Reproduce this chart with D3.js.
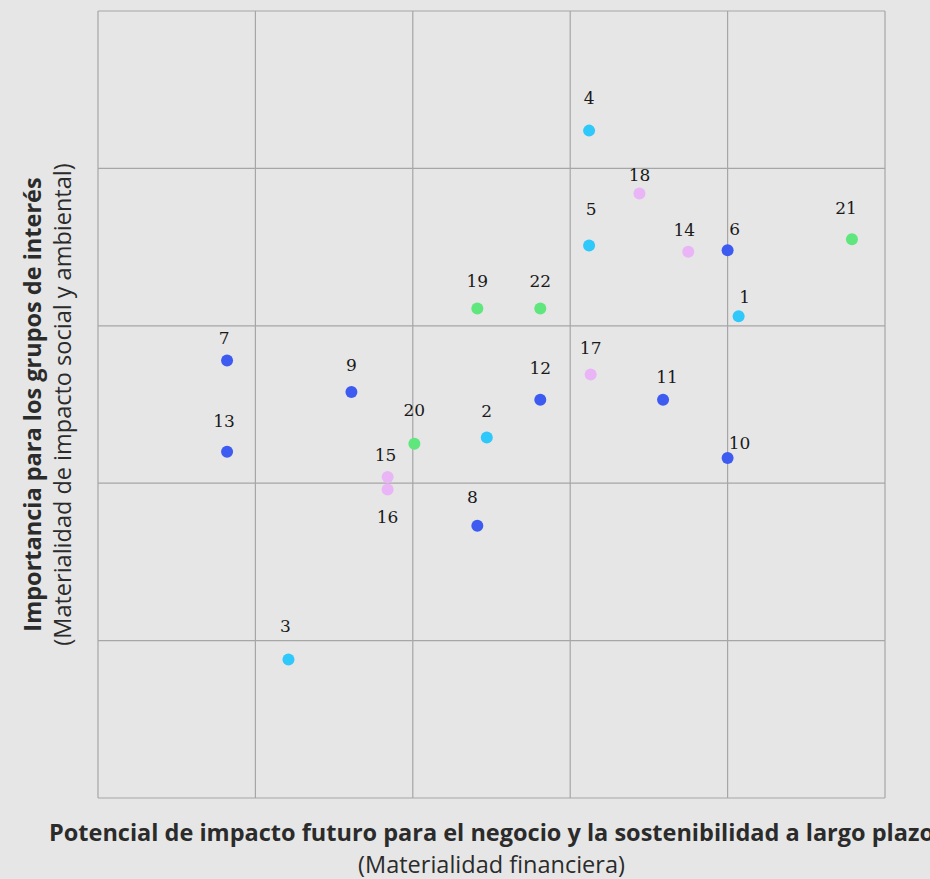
<!DOCTYPE html>
<html>
<head>
<meta charset="utf-8">
<script src="https://cdn.jsdelivr.net/npm/d3@7"></script>
<style>
  body { margin: 0; background: #e6e6e6; }
  svg { display: block; }
</style>
</head>
<body>
<div id="chart"></div>
<script>
const w = 930;
const h = 879;
const margin = { top: 11, right: 45, bottom: 81, left: 98 };

// topic ids, scores (0..5 on both axes)
const ids = [1, 2, 3, 4, 5, 6, 7, 8, 9, 10, 11, 12, 13, 14, 15, 16, 17, 18, 19, 20, 21, 22];
const financial = [4.07, 2.47, 1.21, 3.12, 3.12, 4.0, 0.82, 2.41, 1.61, 4.0, 3.59, 2.81, 0.82, 3.75, 1.84, 1.84, 3.13, 3.44, 2.41, 2.01, 4.79, 2.81];
const impact = [3.06, 2.29, 0.88, 4.24, 3.51, 3.48, 2.78, 1.73, 2.58, 2.16, 2.53, 2.53, 2.20, 3.47, 2.04, 1.96, 2.69, 3.84, 3.11, 2.25, 3.55, 3.11];
const group = ["cyan", "cyan", "cyan", "cyan", "cyan", "blue", "blue", "blue", "blue", "blue", "blue", "blue", "blue", "pink", "pink", "pink", "pink", "pink", "green", "green", "green", "green"];
const gridTicks = [0, 1, 2, 3, 4, 5];

const colors = { blue: "#3d5af1", cyan: "#2ec8fa", pink: "#e9b5f7", green: "#5fe67c" };

// label nudges (px) relative to the default "above" placement
const labelShift = {
  1: [6, 8], 6: [7, 6], 10: [12, 12], 14: [-4, 5], 11: [4, 4], 8: [-5, -2],
  7: [-3, 5], 13: [-3, -4], 21: [-6, -4], 3: [-3, -6], 5: [2, -10], 18: [0, 8],
  15: [-2, 5], 4: [0, -6], 20: [0, -7], 12: [0, -5]
};

const data = ids.map((id, i) => ({ id, x: financial[i], y: impact[i], g: group[i] }));

const x = d3.scaleLinear().domain([0, 5]).range([margin.left, w - margin.right]);
const y = d3.scaleLinear().domain([0, 5]).range([h - margin.bottom, margin.top]);

const svg = d3.select("#chart").append("svg").attr("width", w).attr("height", h);

svg.append("rect").attr("width", w).attr("height", h).attr("fill", "#e6e6e6");

// grid
svg.append("g")
  .selectAll("line")
  .data(gridTicks)
  .enter()
  .append("line")
  .attr("x1", d => x(d)).attr("x2", d => x(d))
  .attr("y1", y(0)).attr("y2", y(5))
  .attr("stroke", "#a6a6a6").attr("stroke-width", 1.2);

svg.append("g")
  .selectAll("line")
  .data(gridTicks)
  .enter()
  .append("line")
  .attr("y1", d => y(d)).attr("y2", d => y(d))
  .attr("x1", x(0)).attr("x2", x(5))
  .attr("stroke", "#a6a6a6").attr("stroke-width", 1.2);

// points
svg.append("g")
  .selectAll("circle")
  .data(data)
  .enter()
  .append("circle")
  .attr("cx", d => x(d.x))
  .attr("cy", d => y(d.y))
  .attr("r", 6)
  .attr("fill", d => colors[d.g]);

// labels
svg.append("g")
  .selectAll("text")
  .data(data)
  .enter()
  .append("text")
  .text(d => d.id)
  .attr("x", d => x(d.x) + (labelShift[d.id] ? labelShift[d.id][0] : 0))
  .attr("y", d => {
    if (d.id === 16) return y(d.y) + 34; // sits under its point
    return y(d.y) - 21 + (labelShift[d.id] ? labelShift[d.id][1] : 0);
  })
  .attr("text-anchor", "middle")
  .attr("font-family", "'DejaVu Serif', serif")
  .attr("font-size", 17)
  .attr("fill", "#1a1a1a");

// axis titles
const cx = (x(0) + x(5)) / 2;
const cy = (y(0) + y(5)) / 2;
const font = "'Open Sans', sans-serif";

svg.append("text")
  .attr("x", cx).attr("y", 841)
  .attr("text-anchor", "middle")
  .attr("font-family", font).attr("font-size", 23.5).attr("font-weight", "bold")
  .attr("fill", "#2b2b2b")
  .text("Potencial de impacto futuro para el negocio y la sostenibilidad a largo plazo");

svg.append("text")
  .attr("x", cx).attr("y", 873)
  .attr("text-anchor", "middle")
  .attr("font-family", font).attr("font-size", 23.5)
  .attr("fill", "#2b2b2b")
  .text("(Materialidad financiera)");

svg.append("text")
  .attr("transform", `translate(41,${cy}) rotate(-90)`)
  .attr("text-anchor", "middle")
  .attr("font-family", font).attr("font-size", 23.5).attr("font-weight", "bold")
  .attr("fill", "#2b2b2b")
  .text("Importancia para los grupos de interés");

svg.append("text")
  .attr("transform", `translate(71,${cy}) rotate(-90)`)
  .attr("text-anchor", "middle")
  .attr("font-family", font).attr("font-size", 23.5)
  .attr("fill", "#2b2b2b")
  .text("(Materialidad de impacto social y ambiental)");
</script>
</body>
</html>
